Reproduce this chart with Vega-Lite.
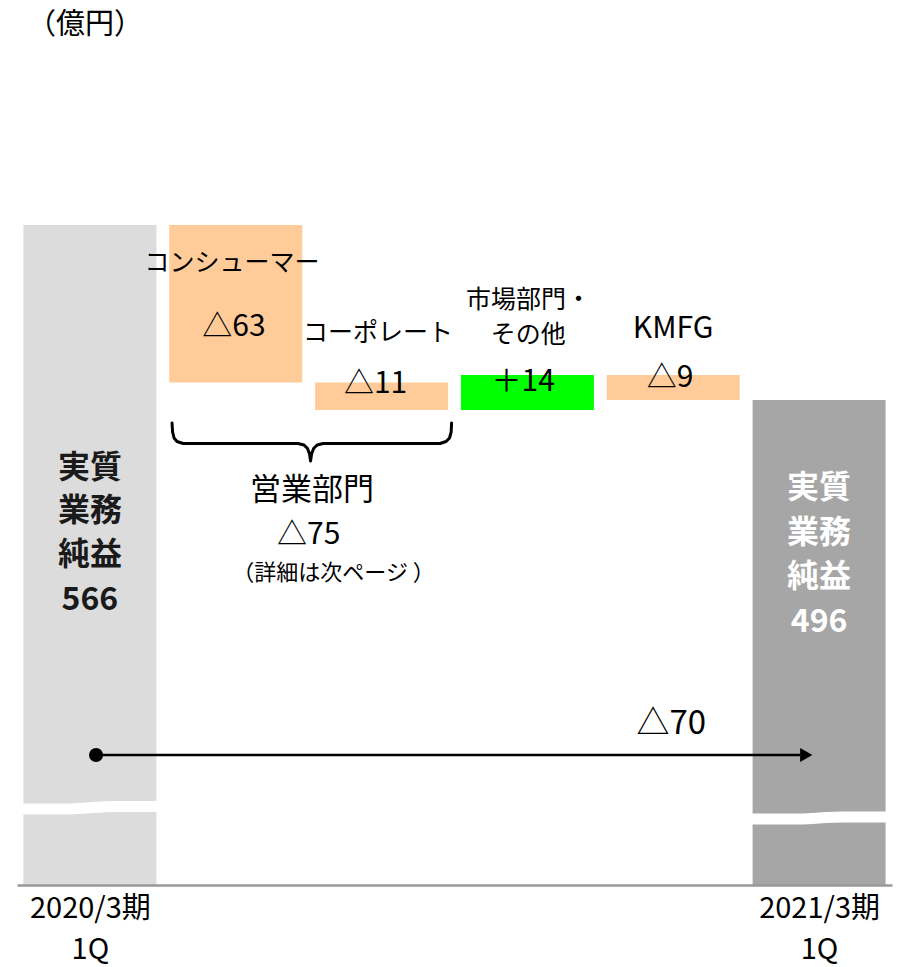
{
  "$schema": "https://vega.github.io/schema/vega-lite/v6.json",
  "width": 875,
  "height": 885,
  "autosize": {"type": "none"},
  "padding": {"left": 17, "top": 0, "right": 6, "bottom": 82},
  "background": "white",
  "config": {"view": {"stroke": null}, "font": "Noto Sans CJK JP", "text": {"font": "Noto Sans CJK JP"}},
  "datasets": {
    "bars": [
      {"x": 0.5, "y": 566, "y2": 302, "kind": "2020/3期1Q"},
      {"x": 1.5, "y": 566, "y2": 503, "kind": "減少"},
      {"x": 2.5, "y": 503, "y2": 492, "kind": "減少"},
      {"x": 3.5, "y": 506, "y2": 492, "kind": "増加"},
      {"x": 4.5, "y": 506, "y2": 496, "kind": "減少"},
      {"x": 5.5, "y": 496, "y2": 302, "kind": "2021/3期1Q"}
    ],
    "breaks": [
      {"x": 0.02, "y": 332.4, "b": "a"},
      {"x": 0.35, "y": 332.4, "b": "a"},
      {"x": 0.5, "y": 332.9, "b": "a"},
      {"x": 0.65, "y": 333.4, "b": "a"},
      {"x": 0.98, "y": 333.4, "b": "a"},
      {"x": 5.02, "y": 328.4, "b": "b"},
      {"x": 5.35, "y": 328.4, "b": "b"},
      {"x": 5.5, "y": 328.8, "b": "b"},
      {"x": 5.65, "y": 329.2, "b": "b"},
      {"x": 5.98, "y": 329.2, "b": "b"}
    ],
    "brace": [
      {"x": 1.063, "y": 486.8},
      {"x": 1.067, "y": 483.2},
      {"x": 1.077, "y": 480.8},
      {"x": 1.097, "y": 479.4},
      {"x": 1.139, "y": 478.6},
      {"x": 1.927, "y": 478.6},
      {"x": 1.968, "y": 478.0},
      {"x": 1.992, "y": 476.6},
      {"x": 2.006, "y": 474.4},
      {"x": 2.013, "y": 471.6},
      {"x": 2.020, "y": 474.4},
      {"x": 2.034, "y": 476.6},
      {"x": 2.058, "y": 478.0},
      {"x": 2.099, "y": 478.6},
      {"x": 2.901, "y": 478.6},
      {"x": 2.942, "y": 479.4},
      {"x": 2.966, "y": 480.8},
      {"x": 2.977, "y": 483.2},
      {"x": 2.980, "y": 486.8}
    ],
    "arrow": [
      {"x": 0.542, "y": 354},
      {"x": 5.37, "y": 354}
    ],
    "dot": [{"x": 0.542, "y": 354}],
    "head": [{"x": 5.412, "y": 354}],
    "labels": [
      {"x": 0.466, "y": 646.2, "t": "（億円）", "role": "unit"},
      {"x": 1.475, "y": 550.8, "t": "コンシューマー", "role": "name"},
      {"x": 2.476, "y": 522.8, "t": "コーポレート", "role": "name"},
      {"x": 3.508, "y": 536, "t": "市場部門・", "role": "name"},
      {"x": 3.505, "y": 522, "t": "その他", "role": "name"},
      {"x": 4.499, "y": 524.4, "t": "KMFG", "role": "value"},
      {"x": 1.488, "y": 525.2, "t": "△63", "role": "value"},
      {"x": 2.459, "y": 502.5, "t": "△11", "role": "value"},
      {"x": 3.471, "y": 503.2, "t": "＋14", "role": "value"},
      {"x": 4.479, "y": 504.8, "t": "△9", "role": "value"},
      {"x": 2.023, "y": 459.6, "t": "営業部門", "role": "group"},
      {"x": 2.0, "y": 442.0, "t": "△75", "role": "value"},
      {"x": 2.171, "y": 426.8, "t": "（詳細は次ページ ）", "role": "note"},
      {"x": 4.486, "y": 366.4, "t": "△70", "role": "total"},
      {"x": 0.5, "y": 468.8, "t": "実質", "role": "left"},
      {"x": 0.5, "y": 451.6, "t": "業務", "role": "left"},
      {"x": 0.5, "y": 434, "t": "純益", "role": "left"},
      {"x": 0.5, "y": 416, "t": "566", "role": "left"},
      {"x": 5.5, "y": 460.8, "t": "実質", "role": "right"},
      {"x": 5.5, "y": 442.8, "t": "業務", "role": "right"},
      {"x": 5.5, "y": 425.2, "t": "純益", "role": "right"},
      {"x": 5.5, "y": 407.2, "t": "496", "role": "right"}
    ]
  },
  "encoding": {
    "x": {
      "field": "x", "type": "quantitative",
      "scale": {"domain": [0, 6], "nice": false, "zero": false, "padding": 0},
      "axis": {
        "values": [0.5, 5.5], "title": null, "grid": false, "ticks": false, "tickSize": 0,
        "domainColor": "#999999", "domainWidth": 2.5, "zindex": 1,
        "labelFont": "Noto Sans CJK JP", "labelFontSize": 29, "labelColor": "#000000",
        "labelPadding": 9, "labelLineHeight": 41, "labelFlush": false, "labelOverlap": false,
        "labelBound": false, "labelBaseline": "top",
        "labelExpr": "datum.value < 3 ? ['2020/3期', '1Q'] : ['2021/3期', '1Q']"
      }
    },
    "y": {"field": "y", "type": "quantitative", "scale": {"domain": [302, 656], "nice": false, "zero": false}, "axis": null}
  },
  "layer": [
    {
      "data": {"name": "bars"},
      "mark": {"type": "bar", "width": 133},
      "encoding": {
        "y2": {"field": "y2"},
        "color": {"field": "kind", "type": "nominal", "legend": null,
          "scale": {"domain": ["2020/3期1Q", "減少", "増加", "2021/3期1Q"], "range": ["#dcdcdc", "#ffcc99", "#00ff00", "#a6a6a6"]}}
      }
    },
    {
      "data": {"name": "breaks"},
      "mark": {"type": "line", "color": "white", "strokeWidth": 11, "interpolate": "monotone", "strokeCap": "butt"},
      "encoding": {"detail": {"field": "b"}}
    },
    {
      "data": {"name": "brace"},
      "mark": {"type": "line", "color": "black", "strokeWidth": 3, "strokeJoin": "round", "strokeCap": "round"},
      "encoding": {}
    },
    {
      "data": {"name": "arrow"},
      "mark": {"type": "line", "color": "black", "strokeWidth": 2.5},
      "encoding": {}
    },
    {
      "data": {"name": "dot"},
      "mark": {"type": "point", "shape": "circle", "filled": true, "size": 200, "color": "black", "opacity": 1}
    },
    {
      "data": {"name": "head"},
      "mark": {"type": "point", "shape": "triangle-right", "filled": true, "size": 200, "color": "black", "opacity": 1}
    },
    {
      "data": {"name": "labels"},
      "transform": [{"filter": "datum.role == 'unit'"}],
      "mark": {"type": "text", "fontSize": 29, "color": "black", "align": "center", "baseline": "middle"},
      "encoding": {"text": {"field": "t"}}
    },
    {
      "data": {"name": "labels"},
      "transform": [{"filter": "datum.role == 'name'"}],
      "mark": {"type": "text", "fontSize": 25, "color": "black", "align": "center", "baseline": "middle"},
      "encoding": {"text": {"field": "t"}}
    },
    {
      "data": {"name": "labels"},
      "transform": [{"filter": "datum.role == 'value'"}],
      "mark": {"type": "text", "fontSize": 30, "color": "black", "align": "center", "baseline": "middle"},
      "encoding": {"text": {"field": "t"}}
    },
    {
      "data": {"name": "labels"},
      "transform": [{"filter": "datum.role == 'group'"}],
      "mark": {"type": "text", "fontSize": 31, "color": "black", "align": "center", "baseline": "middle"},
      "encoding": {"text": {"field": "t"}}
    },
    {
      "data": {"name": "labels"},
      "transform": [{"filter": "datum.role == 'note'"}],
      "mark": {"type": "text", "fontSize": 22, "color": "black", "align": "center", "baseline": "middle"},
      "encoding": {"text": {"field": "t"}}
    },
    {
      "data": {"name": "labels"},
      "transform": [{"filter": "datum.role == 'total'"}],
      "mark": {"type": "text", "fontSize": 33, "color": "black", "align": "center", "baseline": "middle"},
      "encoding": {"text": {"field": "t"}}
    },
    {
      "data": {"name": "labels"},
      "transform": [{"filter": "datum.role == 'left'"}],
      "mark": {"type": "text", "fontSize": 32, "fontWeight": "bold", "color": "#1a1a1a", "align": "center", "baseline": "middle"},
      "encoding": {"text": {"field": "t"}}
    },
    {
      "data": {"name": "labels"},
      "transform": [{"filter": "datum.role == 'right'"}],
      "mark": {"type": "text", "fontSize": 32, "fontWeight": "bold", "color": "white", "align": "center", "baseline": "middle"},
      "encoding": {"text": {"field": "t"}}
    }
  ]
}
